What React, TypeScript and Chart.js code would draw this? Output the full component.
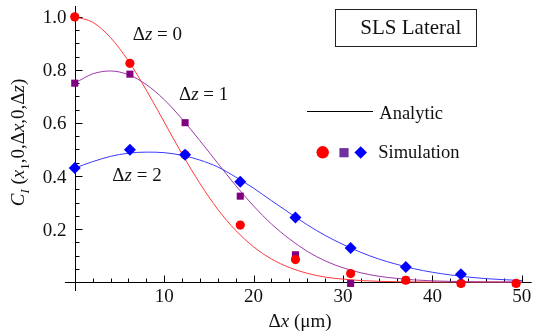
import { useEffect, useRef } from "react";
import { Chart, registerables } from "chart.js";

Chart.register(...registerables);

// Analytic curves (at Δx = 0, 2, 4, ... 50)
const CURVE_X = [0, 2, 4, 6, 8, 10, 12, 14, 16, 18, 20, 22, 24, 26, 28, 30, 32, 34, 36, 38, 40, 42, 44, 46, 48, 50];
const RED_CURVE = [1.0, 0.98, 0.922, 0.834, 0.724, 0.604, 0.483, 0.372, 0.274, 0.195, 0.133, 0.087, 0.055, 0.033, 0.019, 0.011, 0.0057, 0.0029, 0.0014, 0.0007, 0.0003, 0.0001, 0, 0, 0, 0];
const PURPLE_CURVE = [0.75, 0.785, 0.796, 0.782, 0.745, 0.688, 0.615, 0.533, 0.448, 0.364, 0.287, 0.219, 0.163, 0.116, 0.08, 0.054, 0.035, 0.022, 0.014, 0.0081, 0.0047, 0.0026, 0.0014, 0.0007, 0.0004, 0.0002];
const BLUE_CURVE = [0.43, 0.454, 0.474, 0.486, 0.49, 0.488, 0.478, 0.46, 0.434, 0.396, 0.354, 0.307, 0.261, 0.216, 0.176, 0.142, 0.112, 0.087, 0.067, 0.05, 0.037, 0.027, 0.019, 0.013, 0.009, 0.006];

// Simulation points
const SIM_X = [0, 6.17, 12.34, 18.51, 24.68, 30.85, 37.02, 43.19, 49.36];
const RED_SIM = [1.0, 0.825, 0.48, 0.215, 0.085, 0.032, 0.007, -0.005, -0.005];
const PURPLE_SIM = [0.75, 0.784, 0.601, 0.324, 0.103, -0.005, 0.007, -0.005, -0.005];
const BLUE_SIM = [0.43, 0.499, 0.48, 0.378, 0.244, 0.129, 0.057, 0.03];

// Ticks
const X_TICKS = [10, 20, 30, 40, 50];
const X_TICK_LABELS = ["10", "20", "30", "40", "50"];
const Y_TICKS = [0.2, 0.4, 0.6, 0.8, 1.0];
const Y_TICK_LABELS = ["0.2", "0.4", "0.6", "0.8", "1.0"];

const SERIF = '"Liberation Serif", "DejaVu Serif", serif';
const fontOf = (size: number, italic?: boolean) => `${italic ? "italic " : ""}${size}px ${SERIF}`;

type Part = { t: string; i?: boolean; sub?: boolean };

function partSize(p: Part, size: number) {
  return p.sub ? size * 0.68 : size;
}

function richWidth(ctx: CanvasRenderingContext2D, parts: Part[], size: number) {
  let w = 0;
  for (const p of parts) {
    ctx.font = fontOf(partSize(p, size), p.i);
    w += ctx.measureText(p.t).width;
  }
  return w;
}

function drawRich(ctx: CanvasRenderingContext2D, parts: Part[], x: number, y: number, size: number, align: "left" | "center") {
  const w = richWidth(ctx, parts, size);
  let cx = align === "center" ? x - w / 2 : x;
  ctx.textAlign = "left";
  ctx.textBaseline = "alphabetic";
  for (const p of parts) {
    ctx.font = fontOf(partSize(p, size), p.i);
    ctx.fillText(p.t, cx, p.sub ? y + size * 0.24 : y);
    cx += ctx.measureText(p.t).width;
  }
}

function line(ctx: CanvasRenderingContext2D, x1: number, y1: number, x2: number, y2: number) {
  ctx.beginPath();
  ctx.moveTo(x1, y1);
  ctx.lineTo(x2, y2);
  ctx.stroke();
}

const axesPlugin = {
  id: "customAxes",
  beforeDatasetsDraw(chart: any) {
    const ctx: CanvasRenderingContext2D = chart.ctx;
    const xs = chart.scales.x;
    const ys = chart.scales.y;
    const { left, right, top, bottom } = chart.chartArea;
    const x0 = Math.round(xs.getPixelForValue(0)) + 0.5;
    const y0 = Math.round(ys.getPixelForValue(0)) + 0.5;
    ctx.save();
    ctx.strokeStyle = "#000";
    ctx.lineWidth = 1;
    line(ctx, left, y0, right, y0);
    line(ctx, x0, top, x0, bottom);
    for (let v = 2; v <= xs.max; v += 2) {
      const len = v % 10 === 0 ? 7 : 4;
      const px = Math.round(xs.getPixelForValue(v)) + 0.5;
      line(ctx, px, y0, px, y0 - len);
    }
    for (let k = 1; k * 0.05 <= ys.max + 1e-9; k++) {
      const len = k % 4 === 0 ? 7 : 4;
      const py = Math.round(ys.getPixelForValue(k * 0.05)) + 0.5;
      line(ctx, x0, py, x0 + len, py);
    }
    ctx.fillStyle = "#111";
    ctx.font = fontOf(19);
    ctx.textBaseline = "alphabetic";
    ctx.textAlign = "right";
    Y_TICKS.forEach((v, i) => {
      ctx.fillText(Y_TICK_LABELS[i], x0 - 9, ys.getPixelForValue(v) + 6.5);
    });
    ctx.textAlign = "center";
    X_TICKS.forEach((v, i) => {
      ctx.fillText(X_TICK_LABELS[i], xs.getPixelForValue(v), 302);
    });
    ctx.restore();
  },
  afterDraw(chart: any) {
    const ctx: CanvasRenderingContext2D = chart.ctx;
    ctx.save();
    ctx.fillStyle = "#111";
    // curve annotations
    drawRich(ctx, [{ t: "Δ" }, { t: "z", i: true }, { t: " = 0" }], 132.7, 40, 19, "left");
    drawRich(ctx, [{ t: "Δ" }, { t: "z", i: true }, { t: " = 1" }], 179, 100, 19, "left");
    drawRich(ctx, [{ t: "Δ" }, { t: "z", i: true }, { t: " = 2" }], 112.3, 180.7, 19, "left");

    // title box
    ctx.strokeStyle = "#222";
    ctx.lineWidth = 1;
    ctx.strokeRect(335.5, 9.5, 141, 37);
    ctx.font = fontOf(21);
    ctx.textAlign = "center";
    ctx.textBaseline = "alphabetic";
    ctx.fillText("SLS Lateral", 410.8, 34.3);

    // legend
    ctx.strokeStyle = "#000";
    line(ctx, 307, 111.5, 373, 111.5);
    drawRich(ctx, [{ t: "Analytic" }], 379.3, 119, 18.5, "left");
    drawRich(ctx, [{ t: "Simulation" }], 378.3, 158, 18.5, "left");
    ctx.fillStyle = "#ff0000";
    ctx.beginPath();
    ctx.arc(322.7, 152.3, 6.2, 0, Math.PI * 2);
    ctx.fill();
    ctx.fillStyle = "#7030a0";
    ctx.fillRect(344 - 4.6, 152.7 - 4.6, 9.2, 9.2);
    ctx.fillStyle = "#0000ff";
    ctx.beginPath();
    ctx.moveTo(360.7 - 6.3, 152.5);
    ctx.lineTo(360.7, 152.5 - 6.3);
    ctx.lineTo(360.7 + 6.3, 152.5);
    ctx.lineTo(360.7, 152.5 + 6.3);
    ctx.closePath();
    ctx.fill();

    // axis titles
    ctx.fillStyle = "#111";
    drawRich(ctx, [{ t: "Δ" }, { t: "x", i: true }, { t: " (μm)" }], 300, 327, 19, "center");
    ctx.save();
    ctx.translate(24, 142.5);
    ctx.rotate(-Math.PI / 2);
    drawRich(
      ctx,
      [
        { t: "C", i: true },
        { t: "I", i: true, sub: true },
        { t: " (" },
        { t: "x", i: true },
        { t: "1", sub: true },
        { t: ",0," },
        { t: "Δ" },
        { t: "x", i: true },
        { t: ",0," },
        { t: "Δ" },
        { t: "z", i: true },
        { t: ")" },
      ],
      0,
      0,
      19,
      "center"
    );
    ctx.restore();
    ctx.restore();
  },
};

export default function App() {
  const ref = useRef<HTMLCanvasElement | null>(null);
  useEffect(() => {
    if (!ref.current) return;
    const curve = (ys: number[]) => CURVE_X.map((x, i) => ({ x, y: ys[i] }));
    const pts = (ys: number[]) => ys.map((y, i) => ({ x: SIM_X[i], y }));
    const chart = new Chart(ref.current, {
      type: "scatter",
      data: {
        datasets: [
          { label: "blue sim", data: pts(BLUE_SIM), order: 0, pointStyle: "rectRot", pointRadius: 6, backgroundColor: "#0000ff", borderWidth: 0, showLine: false },
          { label: "red sim", data: pts(RED_SIM), order: 1, pointStyle: "circle", pointRadius: 4.6, backgroundColor: "#ff0000", borderWidth: 0, showLine: false },
          { label: "purple sim", data: pts(PURPLE_SIM), order: 2, pointStyle: "rect", pointRadius: 5, backgroundColor: "#800080", borderWidth: 0, showLine: false },
          { label: "blue", data: curve(BLUE_CURVE), order: 3, showLine: true, pointRadius: 0, borderColor: "#3a3aff", borderWidth: 1, cubicInterpolationMode: "monotone" },
          { label: "purple", data: curve(PURPLE_CURVE), order: 4, showLine: true, pointRadius: 0, borderColor: "#9a3aa8", borderWidth: 1, cubicInterpolationMode: "monotone" },
          { label: "red", data: curve(RED_CURVE), order: 5, showLine: true, pointRadius: 0, borderColor: "#ff3a3a", borderWidth: 1, cubicInterpolationMode: "monotone" },
        ] as any,
      },
      options: {
        animation: false,
        responsive: false,
        devicePixelRatio: 1,
        clip: false as any,
        layout: { padding: { left: 64.9, right: 8.3, top: 3, bottom: 44 } },
        plugins: { legend: { display: false }, tooltip: { enabled: false } },
        events: [],
        scales: {
          x: { type: "linear", min: -1.1, max: 51.1, display: false },
          y: { type: "linear", min: -0.0336, max: 1.041, display: false },
        },
      },
      plugins: [axesPlugin],
    });
    return () => chart.destroy();
  }, []);
  return (
    <div style={{ position: "absolute", left: 0, top: 0, width: 540, height: 335, background: "#fff" }}>
      <canvas ref={ref} width={540} height={335} style={{ display: "block" }} />
    </div>
  );
}
